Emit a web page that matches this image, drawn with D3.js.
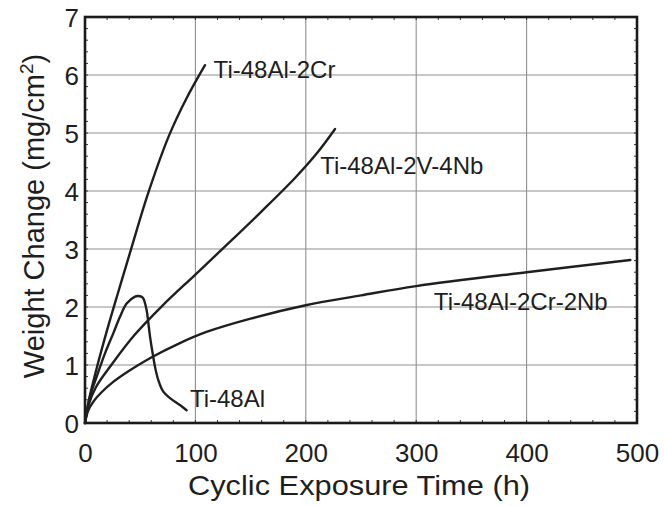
<!DOCTYPE html>
<html>
<head>
<meta charset="utf-8">
<script src="https://cdn.jsdelivr.net/npm/d3@7"></script>
<style>
  html, body { margin: 0; padding: 0; background: #fff; }
  svg { display: block; }
  text { font-family: "Liberation Sans", Arial, Helvetica, sans-serif; fill: #1e1e1e; }
</style>
</head>
<body>
<svg id="chart" width="665" height="506"></svg>
<script>
// ---- data ----
const xTicks = [0, 100, 200, 300, 400, 500];
const yTicks = [0, 1, 2, 3, 4, 5, 6, 7];
const xTitle = "Cyclic Exposure Time (h)";
const yTitle = "Weight Change (mg/cm";

const ti48Al2Cr = [[0,0],[3,0.35],[10,0.9],[20,1.6],[30,2.25],[41,2.95],[57,3.95],[76,4.95],[92,5.6],[108.7,6.17]];
const ti48Al2V4Nb = [[0,0],[3,0.3],[10,0.62],[25,1.03],[45,1.52],[70,2.02],[100,2.56],[130,3.1],[160,3.65],[190,4.22],[210,4.65],[226.5,5.07]];
const ti48Al2Cr2Nb = [[0,0],[3,0.22],[8,0.38],[15,0.53],[25,0.7],[40,0.9],[60,1.13],[85,1.37],[110,1.57],[150,1.8],[200,2.03],[250,2.2],[300,2.36],[400,2.6],[494,2.81]];
const ti48Al = [[0,0],[4.5,0.45],[10.6,0.8],[18.1,1.2],[25.7,1.55],[31.7,1.83],[37.7,2.06],[45.3,2.18],[48,2.19],[51,2.18],[52.8,2.15],[55.8,1.95],[57.4,1.72],[58.9,1.49],[61.3,1.2],[63.4,0.97],[66.4,0.74],[70.9,0.54],[77,0.43],[86,0.31],[92,0.22]];

const seriesNames = ["Ti-48Al-2Cr", "Ti-48Al-2V-4Nb", "Ti-48Al-2Cr-2Nb", "Ti-48Al"];
const seriesData = [ti48Al2Cr, ti48Al2V4Nb, ti48Al2Cr2Nb, ti48Al];
// label anchor points in data units (x, y of text start baseline)
const labelPos = [[116.5, 5.95], [213, 4.3], [316, 1.95], [95, 0.28]];

// ---- layout ----
const svg = d3.select("#chart");
const pLeft = 85, pRight = 637, pTop = 17, pBottom = 423;
const x = d3.scaleLinear().domain([0, 500]).range([pLeft, pRight]);
const y = d3.scaleLinear().domain([0, 7]).range([pBottom, pTop]);

// gridlines
const g = svg.append("g");
g.selectAll("line.vg").data(xTicks.slice(1, -1)).enter().append("line")
  .attr("x1", d => x(d)).attr("x2", d => x(d))
  .attr("y1", pTop).attr("y2", pBottom)
  .attr("stroke", "#8f8f8f").attr("stroke-width", 1.1);
g.selectAll("line.hg").data(yTicks.slice(1, -1)).enter().append("line")
  .attr("x1", pLeft).attr("x2", pRight)
  .attr("y1", d => y(d)).attr("y2", d => y(d))
  .attr("stroke", "#8f8f8f").attr("stroke-width", 1.1);

// axes (tick labels) via d3 axis
const xAxis = d3.axisBottom(x).tickValues(xTicks).tickSize(0).tickPadding(0).tickFormat(d3.format("d"));
const xa = svg.append("g").attr("transform", `translate(0,${pBottom})`).call(xAxis);
xa.select(".domain").remove();
xa.selectAll("text").attr("font-size", 26).attr("dy", null).attr("y", 39)
  .style("font-family", '"Liberation Sans", Arial, sans-serif').attr("fill", "#1e1e1e");

const yAxis = d3.axisLeft(y).tickValues(yTicks).tickSize(0).tickPadding(0).tickFormat(d3.format("d"));
const ya = svg.append("g").attr("transform", `translate(${pLeft},0)`).call(yAxis);
ya.select(".domain").remove();
ya.selectAll("text").attr("font-size", 26).attr("x", -6).attr("dy", "0.36em")
  .style("font-family", '"Liberation Sans", Arial, sans-serif').attr("fill", "#1e1e1e");

// minor inward ticks on frame
const minorX = d3.range(0, 501, 20);
const minorY = d3.range(0, 7.01, 0.2);
svg.append("g").selectAll("line").data(minorX).enter().append("line")
  .attr("x1", d => x(d)).attr("x2", d => x(d)).attr("y1", pBottom).attr("y2", pBottom - 3)
  .attr("stroke", "#333").attr("stroke-width", 1);
svg.append("g").selectAll("line").data(minorX).enter().append("line")
  .attr("x1", d => x(d)).attr("x2", d => x(d)).attr("y1", pTop).attr("y2", pTop + 3)
  .attr("stroke", "#333").attr("stroke-width", 1);
svg.append("g").selectAll("line").data(minorY).enter().append("line")
  .attr("x1", pLeft).attr("x2", pLeft + 3).attr("y1", d => y(d)).attr("y2", d => y(d))
  .attr("stroke", "#333").attr("stroke-width", 1);
svg.append("g").selectAll("line").data(minorY).enter().append("line")
  .attr("x1", pRight).attr("x2", pRight - 3).attr("y1", d => y(d)).attr("y2", d => y(d))
  .attr("stroke", "#333").attr("stroke-width", 1);

// frame
svg.append("rect").attr("x", pLeft).attr("y", pTop)
  .attr("width", pRight - pLeft).attr("height", pBottom - pTop)
  .attr("fill", "none").attr("stroke", "#1a1a1a").attr("stroke-width", 2.6);

// curves
const line = d3.line().x(d => x(d[0])).y(d => y(d[1])).curve(d3.curveCatmullRom.alpha(0.5));
svg.append("g").selectAll("path").data(seriesData).enter().append("path")
  .attr("d", d => line(d))
  .attr("fill", "none").attr("stroke", "#1f1f1f").attr("stroke-width", 2.4)
  .attr("stroke-linejoin", "round").attr("stroke-linecap", "round");

// series labels
svg.append("g").selectAll("text").data(seriesNames).enter().append("text")
  .attr("x", (d, i) => x(labelPos[i][0]))
  .attr("y", (d, i) => y(labelPos[i][1]))
  .attr("font-size", 24)
  .text(d => d);

// axis titles
svg.append("text")
  .attr("x", 359).attr("y", 495)
  .attr("text-anchor", "middle").attr("font-size", 28)
  .attr("textLength", 342).attr("lengthAdjust", "spacingAndGlyphs")
  .text(xTitle);

const yt = svg.append("text")
  .attr("transform", "translate(44,216) rotate(-90)")
  .attr("text-anchor", "middle").attr("font-size", 29);
yt.append("tspan").text(yTitle);
yt.append("tspan").attr("font-size", 19).attr("dy", -11).text("2");
yt.append("tspan").attr("dy", 11).text(")");
</script>
</body>
</html>
